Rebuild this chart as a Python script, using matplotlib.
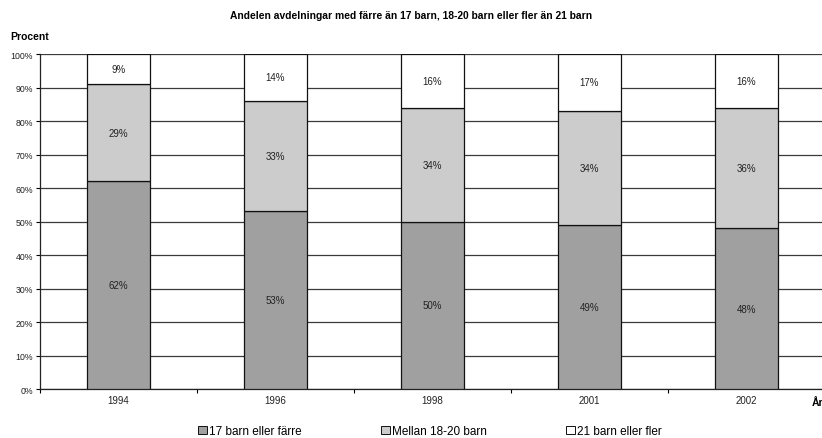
import matplotlib.pyplot as plt
from matplotlib.patches import Patch
import numpy as np

plt.rcParams['font.family'] = ['Liberation Sans', 'DejaVu Sans']

years = ['1994', '1996', '1998', '2001', '2002']
small = [62, 53, 50, 49, 48]      # 17 barn eller färre
medium = [29, 33, 34, 34, 36]     # Mellan 18-20 barn
large = [9, 14, 16, 17, 16]       # 21 barn eller fler
labels = ['17 barn eller färre', 'Mellan 18-20 barn', '21 barn eller fler']
colors = ['#a0a0a0', '#cccccc', '#ffffff']


def plot_stacked():
    fig = plt.figure(figsize=(8.22, 4.39), dpi=100)
    ax = fig.add_axes([0.0487, 0.1116, 0.9549, 0.7631])

    x = np.arange(len(years))
    bottom = np.zeros(len(years))
    for vals, col in zip([small, medium, large], colors):
        vals = np.array(vals)
        ax.bar(x, vals, 0.4, bottom=bottom, color=col, edgecolor='#111111',
               linewidth=0.9, zorder=3)
        for xi, b, v in zip(x, bottom, vals):
            ax.text(xi, b + v / 2, f'{v}%', ha='center', va='center',
                    fontsize=7, color='#222222', zorder=4)
        bottom = bottom + vals

    ax.set_xlim(-0.5, len(years) - 0.5)
    ax.set_ylim(0, 100)
    ax.set_yticks(np.arange(0, 101, 10))
    ax.set_yticklabels([f'{v}%' for v in range(0, 101, 10)], fontsize=6.3, color='#222222')
    ax.yaxis.grid(True, color='#3a3a3a', linewidth=0.9, zorder=0)
    ax.set_axisbelow(True)

    ax.set_xticks(x)
    ax.set_xticklabels(years, fontsize=7, color='#222222')
    ax.tick_params(axis='x', length=0, pad=4)
    ax.set_xticks(np.arange(-0.5, len(years)), minor=True)
    ax.tick_params(axis='x', which='minor', length=3, width=0.8)
    ax.tick_params(axis='y', length=3, width=0.8, pad=2)

    for side in ['top', 'right']:
        ax.spines[side].set_visible(False)
    for side in ['left', 'bottom']:
        ax.spines[side].set_linewidth(0.9)
        ax.spines[side].set_color('#222222')

    fig.text(0.5, 0.963, 'Andelen avdelningar med färre än 17 barn, 18-20 barn eller fler än 21 barn',
             ha='center', va='center', fontsize=7.4, fontweight='bold')
    fig.text(0.013, 0.916, 'Procent', ha='left', va='center', fontsize=7.5, fontweight='bold')
    fig.text(0.987, 0.082, 'År', ha='left', va='center', fontsize=7.5, fontweight='bold')

    handles = [Patch(facecolor=c, edgecolor='#111111', linewidth=0.7) for c in colors]
    fig.legend(handles, labels, loc='center', bbox_to_anchor=(0.523, 0.016), ncol=3,
               frameon=False, fontsize=8.5, handlelength=0.75, handleheight=0.75,
               handletextpad=0.2, columnspacing=6.7, borderpad=0, borderaxespad=0)

    fig.savefig('out.png', dpi=100)


if __name__ == '__main__':
    plot_stacked()
